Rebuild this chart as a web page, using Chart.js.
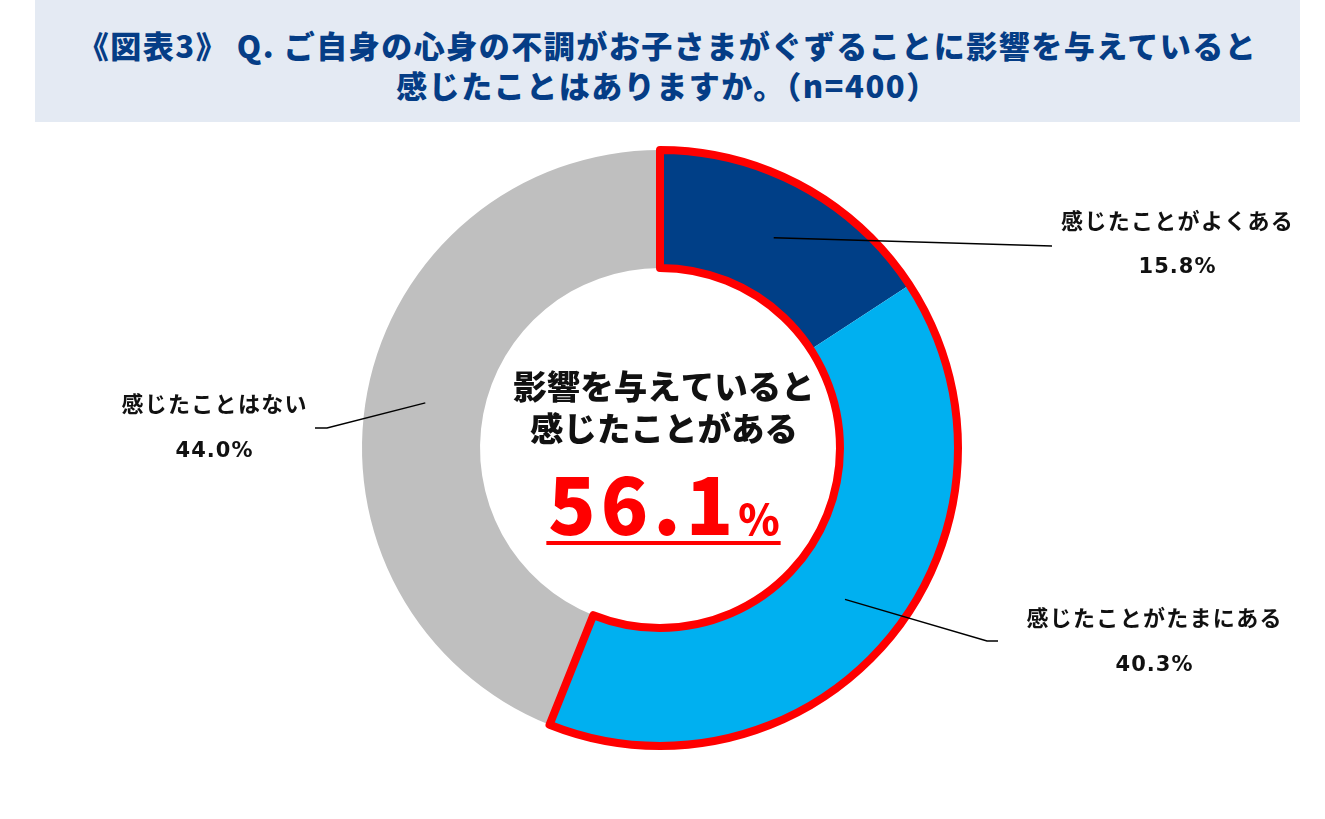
<!DOCTYPE html>
<html lang="ja">
<head>
<meta charset="utf-8">
<title>図表3</title>
<script src="https://cdn.jsdelivr.net/npm/chart.js@4.4.0/dist/chart.umd.min.js"></script>
<style>
  html, body { margin: 0; padding: 0; background: #fff; }
  body { width: 1325px; height: 819px; position: relative; overflow: hidden; }
  .title {
    position: absolute; left: 35px; top: 0; width: 1265px; height: 122px;
    box-sizing: border-box; padding-top: 25px;
    background: #e4eaf3; color: #053d86;
    font-family: "Noto Sans CJK JP", sans-serif; font-weight: 900;
    font-size: 31px; line-height: 40px; letter-spacing: 1.5px; text-align: center;
  }
  #chart { position: absolute; left: 0; top: 0; }
</style>
</head>
<body>
<canvas id="chart" width="1325" height="819"></canvas>
<div class="title">《図表3》 Q. ご自身の心身の不調がお子さまがぐずることに影響を与えていると<br>感じたことはありますか。（n=400）</div>

<script>
// Data
const categories = ['感じたことがよくある', '感じたことがたまにある', '感じたことはない'];
const shares = [15.8, 40.3, 44.0];
const sliceColors = ['#003f87', '#00b0f0', '#bfbfbf'];
const highlighted = [0, 1]; // slices inside the red outline
const centerLines = ['影響を与えていると', '感じたことがある'];

// Layout for the outside labels: centre x, name y, percent y, leader bend points
const labelLayout = [
  { x: 1177, nameY: 221, pctY: 268, leader: [[1052, 246]] },
  { x: 1154, nameY: 618, pctY: 666, leader: [[987, 641], [998, 641]] },
  { x: 214, nameY: 404, pctY: 452, leader: [[327, 428], [315, 428]] }
];

const jp = '"Noto Sans CJK JP", sans-serif';

const overlayPlugin = {
  id: 'overlay',
  afterDraw(chart) {
    const ctx = chart.ctx;
    const arcs = chart.getDatasetMeta(0).data;

    // Red outline around the highlighted slices
    const first = arcs[highlighted[0]];
    const last = arcs[highlighted[highlighted.length - 1]];
    const { x, y, innerRadius, outerRadius } = first.getProps(['x', 'y', 'innerRadius', 'outerRadius'], true);
    ctx.save();
    ctx.beginPath();
    ctx.arc(x, y, outerRadius, first.startAngle, last.endAngle);
    ctx.arc(x, y, innerRadius, last.endAngle, first.startAngle, true);
    ctx.closePath();
    ctx.lineWidth = 8;
    ctx.lineJoin = 'round';
    ctx.strokeStyle = '#ff0000';
    ctx.stroke();
    ctx.restore();

    // Leader lines + labels
    arcs.forEach((arc, i) => {
      const lay = labelLayout[i];
      const p = arc.getCenterPoint(true);
      ctx.save();
      ctx.beginPath();
      ctx.moveTo(p.x, p.y);
      lay.leader.forEach(pt => ctx.lineTo(pt[0], pt[1]));
      ctx.lineWidth = 1.5;
      ctx.strokeStyle = '#000';
      ctx.stroke();

      ctx.fillStyle = '#111';
      ctx.textAlign = 'center';
      ctx.textBaseline = 'middle';
      ctx.font = 'bold 22px ' + jp;
      ctx.letterSpacing = '1.3px';
      ctx.fillText(categories[i], lay.x + 0.6, lay.nameY);
      ctx.font = 'bold 21px "DejaVu Sans", sans-serif';
      ctx.letterSpacing = '1px';
      ctx.fillText(shares[i].toFixed(1) + '%', lay.x + 0.5, lay.pctY);
      ctx.restore();
    });

    // Center text
    const cx = x + 4;
    ctx.save();
    ctx.fillStyle = '#111';
    ctx.textAlign = 'center';
    ctx.textBaseline = 'middle';
    ctx.font = '900 33.5px ' + jp;
    ctx.letterSpacing = '0px';
    ctx.fillText(centerLines[0], cx, y - 62);
    ctx.fillText(centerLines[1], cx, y - 20);

    const total = highlighted.reduce((s, i) => s + shares[i], 0).toFixed(1);
    ctx.textAlign = 'left';
    ctx.textBaseline = 'alphabetic';
    ctx.fillStyle = '#ff0000';
    ctx.font = '900 78px ' + jp;
    ctx.letterSpacing = '5px';
    const wNum = ctx.measureText(total).width;
    ctx.font = '900 42px ' + jp;
    ctx.letterSpacing = '0px';
    const wPct = ctx.measureText('%').width;
    const left = cx - (wNum + wPct) / 2;
    const base = y + 87;
    ctx.font = '900 78px ' + jp;
    ctx.letterSpacing = '5px';
    ctx.fillText(total, left, base);
    ctx.font = '900 42px ' + jp;
    ctx.letterSpacing = '0px';
    ctx.fillText('%', left + wNum, base);
    ctx.fillRect(left - 2, base + 6, wNum + wPct + 3, 4);
    ctx.restore();
  }
};

new Chart(document.getElementById('chart').getContext('2d'), {
  type: 'doughnut',
  data: {
    labels: categories,
    datasets: [{
      data: shares,
      backgroundColor: sliceColors,
      borderWidth: 0,
      hoverOffset: 0,
      offset: 0
    }]
  },
  options: {
    responsive: false,
    animation: false,
    events: [],
    cutout: '60.4%',
    layout: { padding: { top: 150, bottom: 73, left: 362, right: 367 } },
    plugins: {
      legend: { display: false },
      tooltip: { enabled: false },
      title: { display: false }
    }
  },
  plugins: [overlayPlugin]
});
</script>
</body>
</html>
